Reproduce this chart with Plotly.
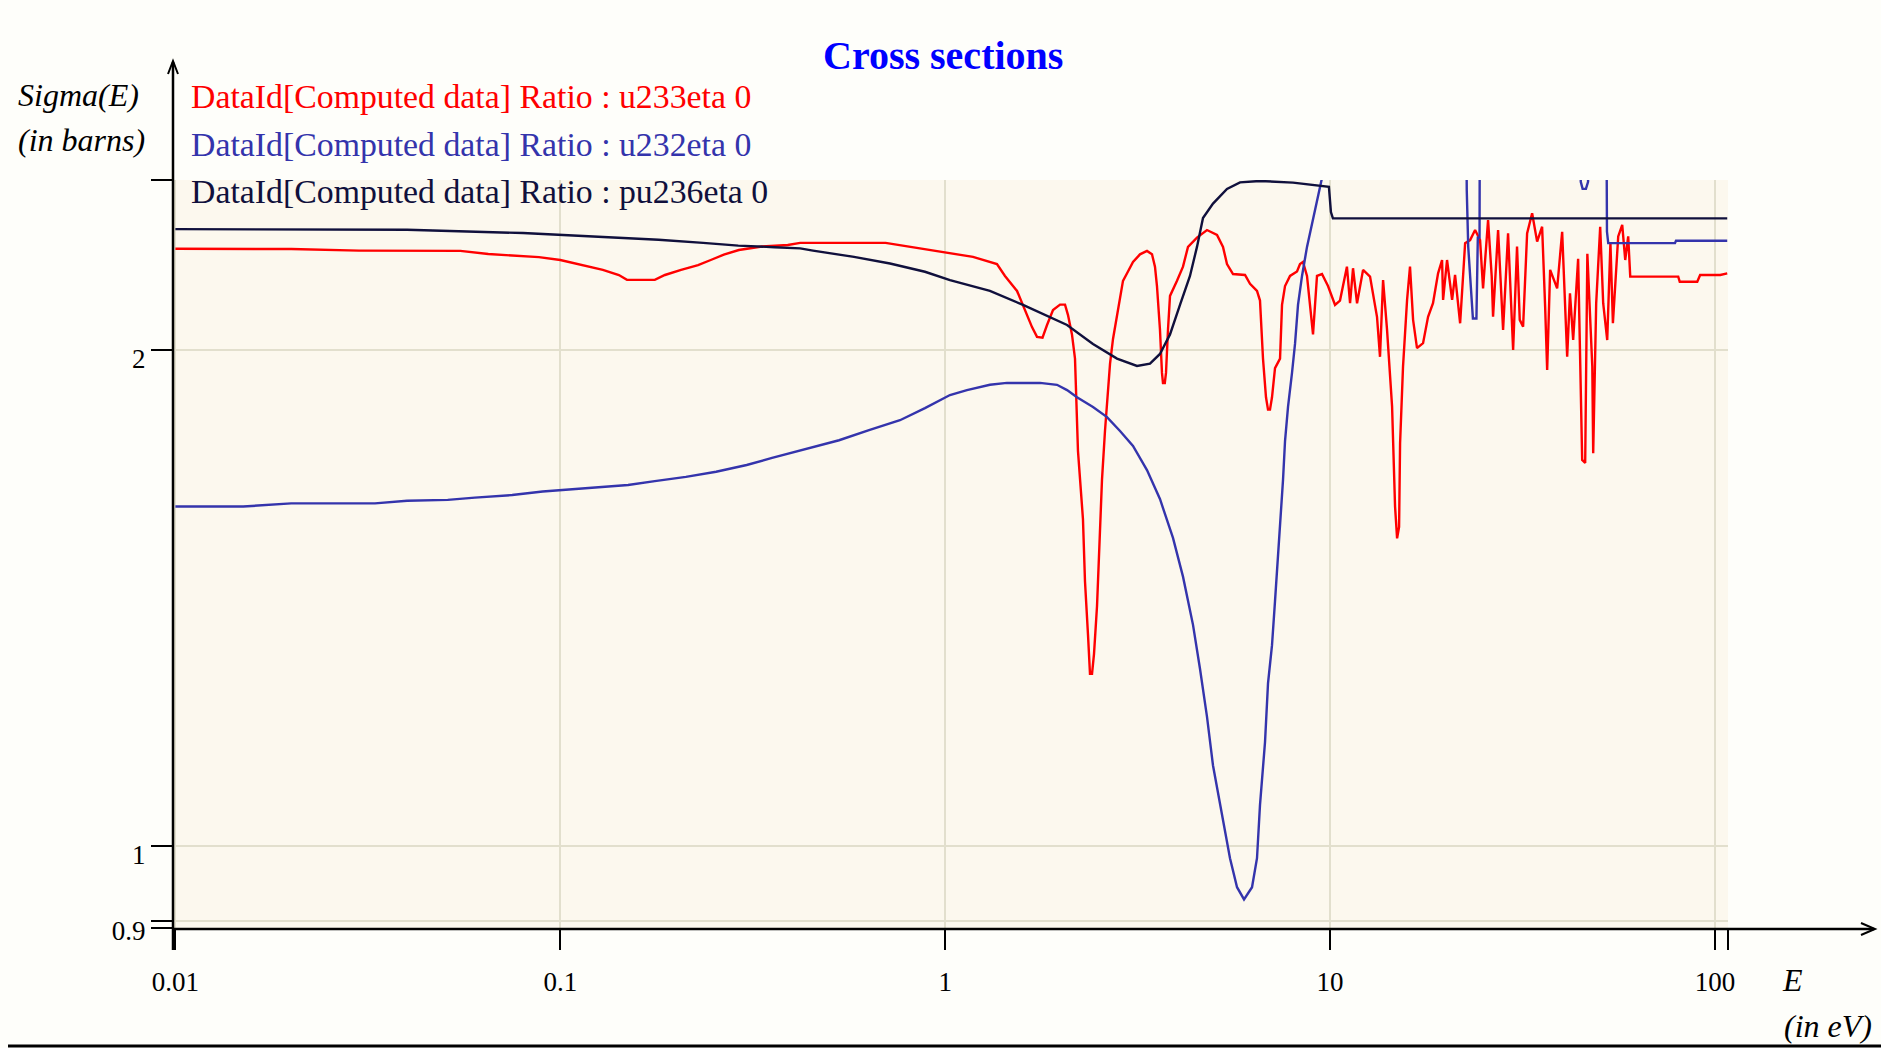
import plotly.graph_objects as go

# ---------------- data ----------------
u233_E = [0.01, 0.02, 0.03, 0.055, 0.065, 0.088, 0.100, 0.109, 0.118, 0.129, 0.142, 0.149, 0.176, 0.187,
          0.206, 0.228, 0.246, 0.266, 0.291, 0.334, 0.39, 0.42, 0.70, 0.76, 0.80, 0.90, 0.969, 1.181,
          1.363, 1.430, 1.537, 1.612, 1.681, 1.732, 1.79, 1.839, 1.906, 1.988, 2.048, 2.085, 2.135,
          2.174, 2.213, 2.280, 2.308, 2.350, 2.378, 2.407, 2.436, 2.480, 2.525, 2.555, 2.601, 2.649,
          2.681, 2.729, 2.795, 2.846, 2.897, 2.985, 3.076, 3.207, 3.344, 3.446, 3.508, 3.550, 3.614,
          3.658, 3.680, 3.720, 3.747, 3.792, 3.838, 4.002, 4.148, 4.274, 4.510, 4.788, 5.084, 5.270,
          5.397, 5.595, 6.012, 6.194, 6.458, 6.575, 6.694, 6.815, 6.898, 6.980, 7.065, 7.193, 7.412,
          7.501, 7.637, 7.869, 8.205, 8.353, 8.505, 8.710, 9.029, 9.247, 9.528, 9.876, 10.30, 10.61,
          11.06, 11.27, 11.47, 11.75, 12.18, 12.70, 13.24, 13.48, 13.73, 14.06, 14.49, 14.75, 14.93,
          15.11, 15.20, 15.47, 15.85, 16.13, 16.43, 16.82, 17.44, 17.97, 18.51, 19.08, 19.54, 19.66,
          20.13, 20.75, 21.12, 21.77, 22.43, 23.11, 23.81, 24.53, 24.97, 25.73, 26.30, 26.51, 27.32,
          28.15, 29.00, 29.89, 30.60, 31.10, 31.73, 32.50, 33.49, 34.51, 35.55, 36.20, 36.64, 37.30,
          38.90, 40.08, 41.30, 42.00, 42.81, 44.10, 45.18, 46.00, 46.60, 48.00, 48.26, 49.13, 50.32,
          51.23, 52.48, 53.50, 54.30, 56.05, 57.41, 58.45, 59.50, 60.23, 80.26, 81.0, 89.93, 91.5,
          103.2, 107.6]
u233_sigma = [2.304, 2.303, 2.298, 2.297, 2.287, 2.277, 2.268, 2.257, 2.247, 2.237, 2.221, 2.206, 2.206, 2.221,
              2.237, 2.252, 2.268, 2.285, 2.300, 2.311, 2.316, 2.323, 2.323, 2.316, 2.311, 2.302, 2.297, 2.278,
              2.255, 2.218, 2.172, 2.115, 2.065, 2.037, 2.035, 2.071, 2.115, 2.131, 2.131, 2.100, 2.044,
              1.976, 1.737, 1.579, 1.447, 1.343, 1.272, 1.272, 1.308, 1.398, 1.538, 1.668, 1.786, 1.883,
              1.962, 2.031, 2.100, 2.143, 2.203, 2.232, 2.262, 2.286, 2.297, 2.286, 2.247, 2.187, 2.058,
              1.937, 1.910, 1.910, 1.937, 2.058, 2.157, 2.203, 2.247, 2.310, 2.340, 2.365, 2.349, 2.310,
              2.255, 2.224, 2.221, 2.194, 2.172, 2.143, 1.976, 1.872, 1.840, 1.840, 1.872, 1.950, 1.976,
              2.130, 2.187, 2.218, 2.232, 2.255, 2.262, 2.218, 2.044, 2.218, 2.224, 2.187, 2.130, 2.143,
              2.247, 2.135, 2.242, 2.135, 2.237, 2.216, 2.095, 1.981, 2.205, 2.057, 1.848, 1.607, 1.537,
              1.562, 1.755, 1.954, 2.145, 2.247, 2.086, 2.005, 2.019, 2.095, 2.135, 2.226, 2.268, 2.145,
              2.268, 2.145, 2.221, 2.076, 2.322, 2.332, 2.365, 2.332, 2.180, 2.398, 2.216, 2.095, 2.365,
              2.057, 2.354, 2.000, 2.311, 2.086, 2.066, 2.354, 2.421, 2.327, 2.376, 2.125, 1.945, 2.237,
              2.180, 2.359, 1.981, 2.165, 2.028, 2.272, 1.715, 1.708, 2.288, 1.954, 1.731, 2.135, 2.376,
              2.135, 2.028, 2.322, 2.076, 2.344, 2.382, 2.268, 2.344, 2.216, 2.216, 2.200, 2.200, 2.221,
              2.221, 2.226]

u232_E = [0.01, 0.015, 0.02, 0.033, 0.04, 0.051, 0.06, 0.075, 0.09, 0.105, 0.12, 0.15, 0.176, 0.212,
          0.254, 0.305, 0.355, 0.427, 0.53, 0.634, 0.763, 0.886, 1.029, 1.139, 1.307, 1.447, 1.763,
          1.952, 2.073, 2.200, 2.421, 2.633, 2.846, 3.076, 3.344, 3.614, 3.907, 4.148, 4.404, 4.592,
          4.788, 4.964, 5.239, 5.495, 5.731, 5.976, 6.269, 6.458, 6.575, 6.775, 6.898, 7.065, 7.193,
          7.323, 7.412, 7.546, 7.637, 7.775, 7.963, 8.107, 8.254, 8.454, 8.710, 8.975, 9.247, 9.585,
          9.876, 10.0, 22.55, 22.65, 22.85, 23.3, 23.5, 24.0, 24.2, 24.45, 24.5, 44.4, 44.8, 45.3,
          46.2, 46.8, 47.1, 52.2, 52.4, 52.8, 78.7, 79.2, 107.6]
u232_sigma = [1.607, 1.607, 1.614, 1.614, 1.620, 1.622, 1.627, 1.633, 1.641, 1.646, 1.650, 1.656, 1.665, 1.675,
              1.687, 1.703, 1.720, 1.739, 1.763, 1.788, 1.813, 1.844, 1.878, 1.891, 1.905, 1.910, 1.910,
              1.905, 1.891, 1.872, 1.847, 1.821, 1.786, 1.749, 1.691, 1.624, 1.538, 1.457, 1.362, 1.281,
              1.198, 1.119, 1.046, 0.983, 0.944, 0.928, 0.944, 0.983, 1.059, 1.156, 1.255, 1.324, 1.408,
              1.496, 1.579, 1.668, 1.761, 1.847, 1.937, 2.017, 2.130, 2.218, 2.310, 2.388, 2.470, 2.560,
              2.700, 2.900, 2.900, 2.500, 2.310, 2.140, 2.090, 2.090, 2.340, 2.340, 2.900, 2.900, 2.530, 2.505,
              2.505, 2.530, 2.900, 2.900, 2.360, 2.322, 2.322, 2.330, 2.330]

pu236_E = [0.01, 0.04, 0.08, 0.13, 0.18, 0.235, 0.29, 0.36, 0.42, 0.4535, 0.5795, 0.7188, 0.886, 1.029,
           1.307, 1.593, 2.073, 2.421, 2.795, 3.150, 3.405, 3.614, 3.838, 4.074, 4.325, 4.510, 4.675,
           4.964, 5.397, 5.834, 6.575, 8.011, 9.818, 9.93, 10.05, 10.17, 107.6]
pu236_sigma = [2.368, 2.366, 2.355, 2.343, 2.333, 2.323, 2.314, 2.309, 2.305, 2.298, 2.278, 2.257, 2.231, 2.205,
               2.172, 2.130, 2.071, 2.017, 1.976, 1.956, 1.962, 1.989, 2.044, 2.130, 2.218, 2.310, 2.405,
               2.454, 2.505, 2.528, 2.533, 2.527, 2.515, 2.512, 2.425, 2.404, 2.404]

series_names = ["DataId[Computed data] Ratio : u233eta 0",
                "DataId[Computed data] Ratio : u232eta 0",
                "DataId[Computed data] Ratio : pu236eta 0"]
series_colors = ["#ff0000", "#3434ac", "#10103c"]

x_ticks = [0.00986, 0.01, 0.1, 1, 10, 100, 108.0]
x_ticktext = ["", "0.01", "0.1", "1", "10", "100", ""]
y_ticks = [0.8918, 0.9, 1, 2, 2.536]
y_ticktext = ["", "0.9", "1", "2", ""]
x_range_log = [-2.0062, 2.0338]
y_range_log = [-0.0498, 0.4042]

# ---------------- layout geometry (pixels) ----------------
W, H = 1881, 1048
L, R, T, B = 173, 153, 180, 120
PW, PH = W - L - R, H - T - B


def px(x, y):
    return (x - L) / PW, (H - B - y) / PH


SERIF = "Liberation Serif, Times New Roman, serif"

fig = go.Figure()
for E, s, name, col in [(u233_E, u233_sigma, series_names[0], series_colors[0]),
                        (u232_E, u232_sigma, series_names[1], series_colors[1]),
                        (pu236_E, pu236_sigma, series_names[2], series_colors[2])]:
    fig.add_trace(go.Scatter(x=E, y=s, mode="lines", name=name,
                             line=dict(color=col, width=2.4), showlegend=False))

axis_common = dict(showline=False, zeroline=False, ticks="outside", ticklen=21, tickwidth=2,
                   tickcolor="#000000", showgrid=True, gridcolor="#e2dfcd", gridwidth=2,
                   tickfont=dict(family=SERIF, size=27, color="#000000"))

fig.update_xaxes(type="log", range=x_range_log, tickmode="array", tickvals=x_ticks,
                 ticktext=x_ticktext, ticklabelstandoff=9, **axis_common)
fig.update_yaxes(type="log", range=y_range_log, tickmode="array", tickvals=y_ticks,
                 ticktext=y_ticktext, ticklabelposition="outside", ticklabelshift=9,
                 ticklabelstandoff=0, **axis_common)

shapes = []
# axis lines with arrows
x0, y0 = px(173, 929)
x1, y1 = px(1874, 929)
shapes.append(dict(type="line", xref="paper", yref="paper", x0=x0, y0=y0, x1=x1, y1=y1,
                   line=dict(color="#000000", width=2.5)))
x0, y0 = px(173, 950)
x1, y1 = px(173, 62)
shapes.append(dict(type="line", xref="paper", yref="paper", x0=x0, y0=y0, x1=x1, y1=y1,
                   line=dict(color="#000000", width=2.5)))


def path(points):
    s = ""
    for i, (a, b) in enumerate(points):
        u, v = px(a, b)
        s += ("M" if i == 0 else "L") + f"{u},{v} "
    return s


shapes.append(dict(type="path", xref="paper", yref="paper",
                   path=path([(168, 74), (173, 61), (178, 74)]),
                   line=dict(color="#000000", width=2)))
shapes.append(dict(type="path", xref="paper", yref="paper",
                   path=path([(1861, 923), (1875, 929), (1861, 935)]),
                   line=dict(color="#000000", width=2)))
# bottom frame line
bx0, by0 = px(8, 1046)
bx1, by1 = px(1881, 1046)
shapes.append(dict(type="line", xref="paper", yref="paper", x0=bx0, y0=by0, x1=bx1, y1=by1,
                   line=dict(color="#000000", width=3)))

annotations = []


def text(t, x, y, size, color="#000000", xanchor="left"):
    u, v = px(x, y)
    annotations.append(dict(text=t, x=u, y=v, xref="paper", yref="paper", showarrow=False,
                            xanchor=xanchor, yanchor="middle",
                            font=dict(family=SERIF, size=size, color=color)))


text("<b>Cross sections</b>", 943, 55, 40, "#0000ff", xanchor="center")
text(series_names[0], 189, 96, 33.8, series_colors[0])
text(series_names[1], 189, 144, 33.8, series_colors[1])
text(series_names[2], 189, 192, 33.8, series_colors[2])
text("<i>Sigma(E)</i>", 16, 95, 32)
text("<i>(in barns)</i>", 16, 140, 32)
text("<i>E</i>", 1780, 980, 32)
text("<i>(in eV)</i>", 1782, 1026, 32)

fig.update_layout(width=W, height=H, margin=dict(l=L, r=R, t=T, b=B, pad=0),
                  paper_bgcolor="#fefefa", plot_bgcolor="#fcf8ee",
                  shapes=shapes, annotations=annotations, showlegend=False)

fig.write_html("out.html", config={"displayModeBar": False})
